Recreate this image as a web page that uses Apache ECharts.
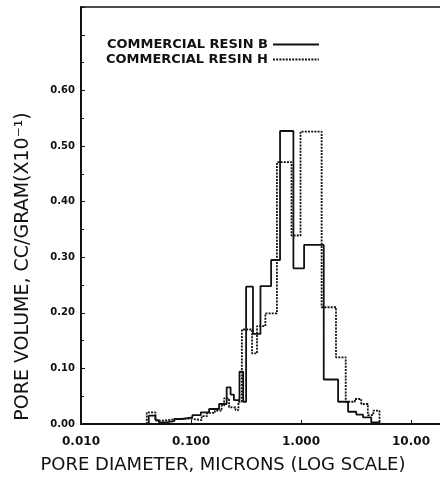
<!DOCTYPE html>
<html>
<head>
<meta charset="utf-8">
<script src="https://cdn.jsdelivr.net/npm/echarts@6/dist/echarts.min.js"></script>
<style>
  html, body { margin: 0; padding: 0; background: #fff; overflow: hidden; }
  /* the plot runs on past the right edge of the window (up to 100 microns) */
  #chart { width: 524px; height: 483px; }
</style>
</head>
<body>
<div id="chart"></div>
<script>
// bin edges (microns) and pore volume per bin
var bEdges = [0.0413, 0.0475, 0.051, 0.0585, 0.0705, 0.0838, 0.103, 0.123, 0.146, 0.180,
              0.211, 0.229, 0.2455, 0.276, 0.298, 0.317, 0.366, 0.428, 0.535, 0.645,
              0.853, 1.067, 1.61, 2.175, 2.68, 3.18, 3.66, 4.35, 5.17];
var bValues = [0.015, 0.007, 0.003, 0.005, 0.009, 0.012, 0.016, 0.021, 0.027, 0.036,
               0.066, 0.053, 0.043, 0.094, 0.040, 0.247, 0.162, 0.248, 0.295, 0.527,
               0.280, 0.322, 0.080, 0.040, 0.022, 0.017, 0.012, 0.003];

var hEdges = [0.0396, 0.0475, 0.055, 0.075, 0.096, 0.125, 0.14, 0.165, 0.19, 0.200,
              0.222, 0.254, 0.27, 0.29, 0.359, 0.398, 0.474, 0.604, 0.82, 0.99,
              1.54, 2.08, 2.55, 3.09, 3.53, 4.05, 4.54, 5.17];
var hValues = [0.021, 0.006, 0.009, 0.010, 0.007, 0.014, 0.020, 0.024, 0.033, 0.046,
               0.030, 0.025, 0.040, 0.170, 0.127, 0.176, 0.199, 0.471, 0.339, 0.526,
               0.210, 0.120, 0.040, 0.045, 0.036, 0.016, 0.024];

var xTickLabels = ['0.010', '0.100', '1.000', '10.00'];
var seriesNames = ['COMMERCIAL RESIN B', 'COMMERCIAL RESIN H'];

// turn edges + values into points for a step line
function steps(edges, values) {
    var pts = [[edges[0], 0]];
    for (var i = 0; i < values.length; i++) {
        pts.push([edges[i], values[i]]);
    }
    pts.push([edges[edges.length - 1], 0]);
    return pts;
}

var ink = '#111';
var chart = echarts.init(document.getElementById('chart'));
chart.setOption({
    animation: false,
    grid: {
        left: 81, top: 7, bottom: 59, right: 0,
        show: true, borderColor: ink, borderWidth: 1.5
    },
    legend: {
        data: seriesNames,
        orient: 'vertical',
        align: 'right',
        left: 106,
        top: 38,
        padding: 0,
        itemGap: 2,
        itemWidth: 46,
        itemHeight: 12,
        itemStyle: { opacity: 0 },
        textStyle: {
            fontFamily: 'DejaVu Sans', fontWeight: 'bold', fontSize: 13, color: ink
        }
    },
    xAxis: {
        type: 'log',
        logBase: 10,
        min: 0.01,
        max: 100,
        name: 'PORE DIAMETER, MICRONS (LOG SCALE)',
        nameLocation: 'middle',
        nameGap: 32,
        // pull the title back to the middle of the visible window
        nameTextStyle: { fontFamily: 'DejaVu Sans', fontSize: 18, color: ink, padding: [0, 156, 0, 0] },
        axisLine: { lineStyle: { color: ink, width: 2 } },
        axisTick: { inside: true, length: 4, lineStyle: { color: ink } },
        splitLine: { show: false },
        axisLabel: {
            margin: 12,
            fontFamily: 'DejaVu Sans', fontWeight: 'bold', fontSize: 12, color: ink,
            formatter: function (v) {
                var e = Math.round(Math.log10(v)) + 2;
                return xTickLabels[e] || '';
            }
        }
    },
    yAxis: {
        type: 'value',
        min: 0,
        max: 0.75,
        interval: 0.1,
        name: 'PORE VOLUME, CC/GRAM(X10\u207B\u00B9)',
        nameLocation: 'middle',
        nameGap: 48,
        nameTextStyle: { fontFamily: 'DejaVu Sans', fontSize: 19, color: ink, padding: [0, 102, 0, 0] },
        axisLine: { show: true, lineStyle: { color: ink, width: 2 } },
        axisTick: { show: true, inside: true, length: 4, lineStyle: { color: ink } },
        minorTick: { show: true, splitNumber: 2, length: 3, lineStyle: { color: ink } },
        splitLine: { show: false },
        axisLabel: {
            margin: 6,
            fontFamily: 'DejaVu Sans', fontWeight: 'bold', fontSize: 10, color: ink,
            formatter: function (v) { return v > 0.601 ? '' : v.toFixed(2); }
        }
    },
    series: [
        {
            name: seriesNames[0],
            type: 'line',
            step: 'end',
            symbol: 'none',
            data: steps(bEdges, bValues),
            lineStyle: { color: ink, width: 1.8 },
            itemStyle: { color: ink }
        },
        {
            name: seriesNames[1],
            type: 'line',
            step: 'end',
            symbol: 'none',
            data: steps(hEdges, hValues),
            lineStyle: { color: ink, width: 1.8, type: [2, 1.2] },
            itemStyle: { color: ink }
        }
    ]
});
</script>
</body>
</html>
